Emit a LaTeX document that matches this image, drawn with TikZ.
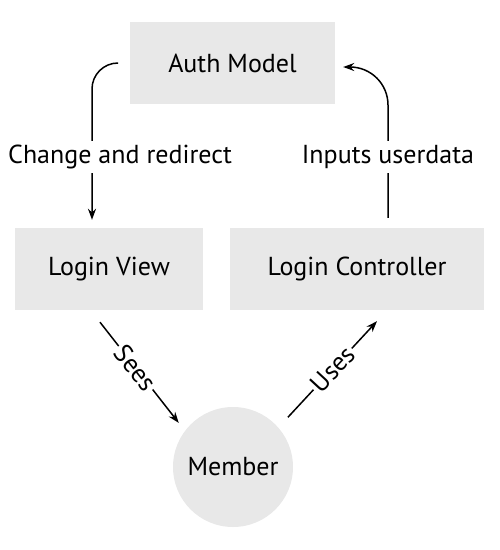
\documentclass[tikz,border=0pt]{standalone}
\usepackage{fontspec}
\setmainfont{PT Sans}
\usetikzlibrary{calc,
                    arrows.meta,
                    positioning}
\definecolor{cinza}{RGB}{232,232,232}
\tikzset{
caixa/.style = {fill=cinza, inner sep=0pt, font=\fontsize{26}{30}\selectfont}
         }
\tikzset{
seta/.style={-{Stealth[length=11pt,width=8pt]}, line width=1.5pt}
                }
\tikzset{
rotulo/.style = {fill=white, inner sep=4pt, font=\fontsize{26}{30}\selectfont}
         }

\begin{document}
\begin{tikzpicture}[x=1pt,y=-1pt]
        \useasboundingbox (0,0) rectangle (500,550);

        % caixas
        \node[caixa, minimum width=205, minimum height=82] (auth) at (232.5,63) {Auth Model};
        \node[caixa, minimum width=188, minimum height=82] (view) at (109,269) {Login View};
        \node[caixa, minimum width=254, minimum height=82] (ctrl) at (357,269) {Login Controller};
        \node[caixa, circle, minimum size=120] (member) at (233,467) {Member};

        % setas de cima
        \coordinate (A) at ($(view.north)+(-17,-8)$);
        \coordinate (B) at ($(ctrl.north)+(31,-10)$);
        \draw[seta, rounded corners=26] ([xshift=-13pt]auth.west) -| (A);
        \draw[seta, rounded corners=38] (B) |- ([xshift=8pt,yshift=-4pt]auth.east);
        \node[rotulo] (lbla) at (120,157) {Change and redirect};
        \node[rotulo] (lblb) at (388,157) {Inputs userdata};

        % setas de baixo
        \coordinate (C) at ($(view.south)+(-9,12)$);
        \coordinate (D) at ($(ctrl.south)+(20,11)$);
        \draw[seta, shorten >=10pt] (C) -- (member.143) node[rotulo, sloped, inner sep=2pt, pos=0.42]{Sees};
        \draw[seta, shorten <=14pt] (member.41) -- (D) node[rotulo, sloped, inner sep=2pt, pos=0.55]{Uses};
\end{tikzpicture}
\end{document}
